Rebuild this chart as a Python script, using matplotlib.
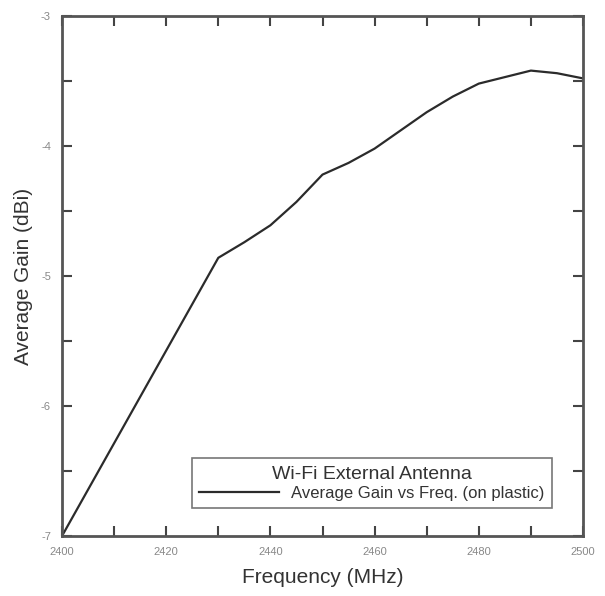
import matplotlib
matplotlib.use("Agg")
import matplotlib.pyplot as plt
from matplotlib.ticker import MultipleLocator

plt.rcParams["font.family"] = ["Liberation Sans", "DejaVu Sans"]

# Average gain
freq_mhz = [2400, 2430, 2435, 2440, 2445, 2450, 2455, 2460, 2465,
            2470, 2475, 2480, 2485, 2490, 2495, 2500]
gain_dbi = [-7.00, -4.86, -4.74, -4.61, -4.43, -4.22, -4.13, -4.02, -3.88,
            -3.74, -3.62, -3.52, -3.47, -3.42, -3.44, -3.48]

X_TICKS = [2400, 2420, 2440, 2460, 2480, 2500]
Y_TICKS = [-7, -6, -5, -4, -3]

fig = plt.figure(figsize=(6.05, 5.96), dpi=100, facecolor="white")
ax = fig.add_axes([62 / 605, 60 / 596, 521 / 605, 520 / 596])

ax.plot(freq_mhz, gain_dbi, color="#2b2b2b", linewidth=1.6,
        label="Average Gain vs Freq. (on plastic)")

ax.set_xlim(2400, 2500)
ax.set_ylim(-7, -3)
ax.set_xticks(X_TICKS)
ax.set_yticks(Y_TICKS)
ax.set_xticklabels([str(v) for v in X_TICKS])
ax.set_yticklabels([str(v) for v in Y_TICKS])
ax.xaxis.set_minor_locator(MultipleLocator(10))
ax.yaxis.set_minor_locator(MultipleLocator(0.5))
ax.tick_params(which="both", direction="in", top=True, right=True,
               color="#444444", width=1.5)
ax.tick_params(which="major", length=7, labelsize=8, labelcolor="#888888", pad=8)
ax.tick_params(which="minor", length=7)
for sp in ax.spines.values():
    sp.set_edgecolor("#555555")
    sp.set_linewidth(2)

ax.set_xlabel("Frequency (MHz)", fontsize=15, color="#333333", labelpad=8)
ax.set_ylabel("Average Gain (dBi)", fontsize=15, color="#333333", labelpad=6)

leg = ax.legend(loc="lower right", bbox_to_anchor=(0.9405, 0.053),
                borderaxespad=0, title="Wi-Fi External Antenna", fontsize=12,
                title_fontsize=14, frameon=True, fancybox=False,
                edgecolor="#555555", handlelength=4.8, borderpad=0.45,
                labelspacing=0.2, handletextpad=0.7)
leg.get_frame().set_linewidth(1.2)
leg.get_title().set_color("#333333")
for t in leg.get_texts():
    t.set_color("#333333")

plt.savefig("out.png", dpi=100, facecolor="white")
